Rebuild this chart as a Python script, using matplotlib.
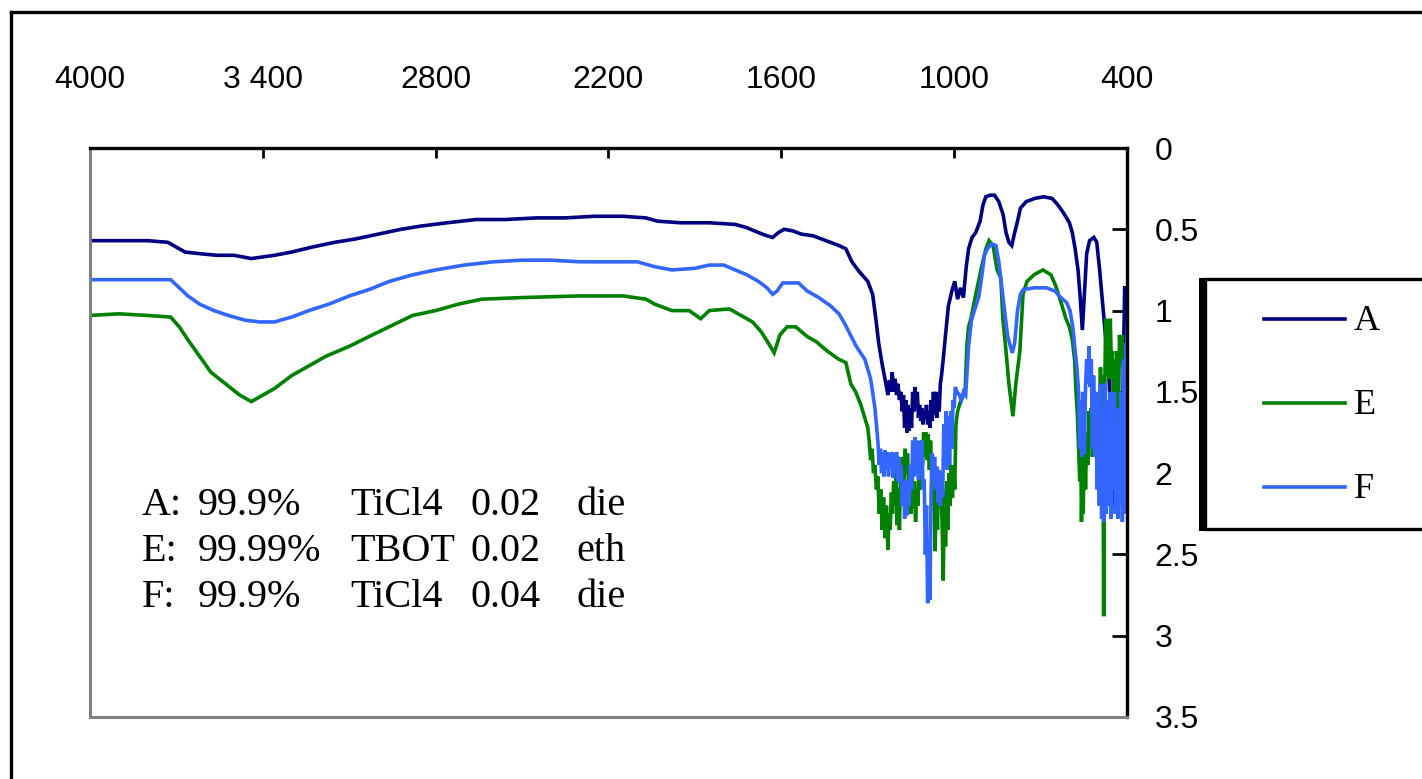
import matplotlib
matplotlib.use("Agg")
import matplotlib.pyplot as plt
from matplotlib import font_manager
from matplotlib.lines import Line2D
from matplotlib.patches import Rectangle

# ---------------- data: (wavenumber cm-1, absorbance) ----------------
spectrum_A = [
    (4000, 0.57), (3900, 0.57), (3800, 0.57), (3730, 0.58), (3700, 0.61), (3670, 0.64),
    (3620, 0.65), (3560, 0.66), (3500, 0.66), (3440, 0.68), (3400, 0.67), (3360, 0.66),
    (3300, 0.64), (3230, 0.61), (3150, 0.58), (3080, 0.56), (3000, 0.53), (2920, 0.50),
    (2850, 0.48), (2760, 0.46), (2660, 0.44), (2560, 0.44), (2450, 0.43), (2350, 0.43),
    (2250, 0.42), (2150, 0.42), (2070, 0.43), (2030, 0.45), (1950, 0.46), (1850, 0.46),
    (1760, 0.47), (1720, 0.49), (1680, 0.52), (1650, 0.54), (1630, 0.55), (1610, 0.52),
    (1590, 0.50), (1560, 0.51), (1530, 0.53), (1490, 0.54), (1460, 0.56), (1430, 0.58),
    (1400, 0.60), (1376, 0.62), (1355, 0.70), (1330, 0.76), (1300, 0.82), (1283, 0.90),
    (1272, 1.05), (1262, 1.20), (1250, 1.33), (1237, 1.45), (1230, 1.52), (1225, 1.43),
    (1220, 1.50), (1215, 1.38), (1210, 1.50), (1205, 1.42), (1200, 1.52), (1195, 1.45),
    (1190, 1.55), (1185, 1.50), (1180, 1.62), (1176, 1.52), (1172, 1.72), (1168, 1.55),
    (1164, 1.75), (1160, 1.58), (1156, 1.74), (1152, 1.60), (1148, 1.72), (1144, 1.50),
    (1140, 1.62), (1136, 1.47), (1132, 1.60), (1128, 1.50), (1124, 1.66), (1120, 1.58),
    (1116, 1.68), (1112, 1.60), (1108, 1.70), (1104, 1.62), (1100, 1.66), (1096, 1.58),
    (1092, 1.70), (1088, 1.62), (1084, 1.72), (1080, 1.55), (1076, 1.68), (1072, 1.50),
    (1068, 1.64), (1064, 1.50), (1060, 1.66), (1056, 1.52), (1052, 1.62), (1048, 1.45),
    (1044, 1.40), (1038, 1.30), (1030, 1.15), (1020, 0.97), (1008, 0.88), (998, 0.82),
    (988, 0.93), (978, 0.86), (968, 0.92), (958, 0.73), (950, 0.62), (938, 0.55),
    (925, 0.52), (910, 0.45), (900, 0.35), (890, 0.30), (875, 0.29), (860, 0.29),
    (845, 0.33), (830, 0.41), (820, 0.52), (810, 0.58), (800, 0.60), (790, 0.52),
    (780, 0.45), (770, 0.37), (750, 0.33), (720, 0.31), (690, 0.30), (660, 0.31),
    (640, 0.35), (620, 0.40), (600, 0.46), (590, 0.52), (580, 0.62), (570, 0.75),
    (562, 0.93), (555, 1.12), (548, 0.90), (540, 0.65), (530, 0.57), (515, 0.55),
    (505, 0.58), (495, 0.75), (485, 0.95), (475, 1.15), (463, 1.40), (450, 1.90),
    (440, 2.25), (432, 1.80), (425, 2.10), (415, 1.60), (408, 0.85), (400, 1.00),
]

spectrum_E = [
    (4000, 1.03), (3900, 1.02), (3800, 1.03), (3720, 1.04), (3690, 1.10), (3660, 1.18),
    (3620, 1.28), (3580, 1.38), (3530, 1.45), (3480, 1.52), (3440, 1.56), (3400, 1.52),
    (3360, 1.48), (3300, 1.40), (3240, 1.34), (3180, 1.28), (3100, 1.22), (3020, 1.15),
    (2950, 1.09), (2880, 1.03), (2800, 1.00), (2720, 0.96), (2640, 0.93), (2500, 0.92),
    (2300, 0.91), (2150, 0.91), (2070, 0.93), (2040, 0.96), (1980, 1.00), (1920, 1.00),
    (1880, 1.05), (1850, 1.00), (1780, 0.99), (1740, 1.03), (1700, 1.07), (1670, 1.13),
    (1645, 1.20), (1625, 1.26), (1605, 1.15), (1580, 1.10), (1550, 1.10), (1510, 1.16),
    (1480, 1.19), (1440, 1.25), (1400, 1.30), (1376, 1.32), (1359, 1.45), (1342, 1.50),
    (1324, 1.58), (1307, 1.68), (1300, 1.72), (1295, 1.80), (1290, 1.92), (1285, 1.85),
    (1280, 2.00), (1275, 1.95), (1270, 2.10), (1265, 2.02), (1260, 2.25), (1255, 2.10),
    (1250, 2.35), (1245, 2.15), (1240, 2.40), (1235, 2.20), (1230, 2.47), (1226, 2.25),
    (1222, 2.35), (1218, 2.12), (1214, 2.25), (1210, 2.05), (1206, 2.20), (1202, 2.00),
    (1198, 2.32), (1194, 2.10), (1190, 2.35), (1186, 2.00), (1182, 2.12), (1178, 1.90),
    (1174, 2.05), (1170, 1.85), (1166, 2.00), (1162, 1.88), (1158, 2.10), (1154, 1.95),
    (1150, 2.25), (1146, 2.00), (1142, 2.22), (1138, 2.05), (1134, 2.30), (1130, 2.10),
    (1126, 2.20), (1122, 1.95), (1118, 2.10), (1114, 1.80), (1110, 1.95), (1106, 1.75),
    (1102, 1.90), (1098, 1.75), (1094, 1.92), (1090, 1.76), (1086, 1.98), (1082, 1.80),
    (1078, 2.02), (1074, 2.20), (1070, 2.10), (1066, 2.48), (1062, 2.05), (1058, 2.35),
    (1054, 2.00), (1050, 2.10), (1046, 2.05), (1042, 2.30), (1038, 2.66), (1034, 2.10),
    (1030, 2.45), (1026, 2.05), (1022, 2.35), (1018, 2.00), (1014, 2.20), (1010, 1.95),
    (1006, 2.15), (1002, 1.95), (998, 2.10), (994, 1.70), (988, 1.62), (980, 1.57),
    (970, 1.53), (962, 1.50), (956, 1.22), (950, 1.10), (942, 1.05), (925, 0.90),
    (907, 0.75), (890, 0.62), (879, 0.57), (865, 0.60), (851, 0.75), (838, 0.80),
    (831, 1.05), (820, 1.25), (810, 1.45), (796, 1.65), (786, 1.45), (772, 1.25),
    (761, 0.90), (747, 0.82), (723, 0.78), (692, 0.75), (664, 0.78), (647, 0.85),
    (629, 0.95), (612, 1.05), (600, 1.10), (590, 1.18), (582, 1.30), (577, 1.50),
    (572, 1.65), (568, 1.85), (564, 2.05), (561, 1.80), (558, 2.30), (555, 1.90),
    (552, 2.25), (548, 1.80), (544, 2.10), (540, 1.75), (536, 1.95), (532, 1.62),
    (528, 1.85), (524, 1.60), (520, 1.90), (516, 1.62), (512, 1.85), (508, 1.60),
    (504, 1.92), (500, 1.65), (496, 1.85), (492, 1.35), (488, 2.20), (484, 1.40),
    (481, 2.88), (478, 1.60), (474, 1.05), (470, 1.40), (466, 1.08), (462, 1.42),
    (458, 1.05), (454, 1.35), (450, 1.25), (446, 1.90), (442, 1.30), (438, 1.80),
    (434, 1.25), (430, 1.70), (426, 1.15), (422, 1.30), (418, 1.15), (414, 1.35),
    (410, 1.22), (406, 1.45), (402, 1.25), (400, 1.40),
]

spectrum_F = [
    (4000, 0.81), (3800, 0.81), (3720, 0.81), (3690, 0.86), (3660, 0.91), (3620, 0.96),
    (3570, 1.00), (3520, 1.03), (3460, 1.06), (3410, 1.07), (3360, 1.07), (3300, 1.04),
    (3240, 1.00), (3170, 0.96), (3100, 0.91), (3030, 0.87), (2960, 0.82), (2880, 0.78),
    (2800, 0.75), (2700, 0.72), (2600, 0.70), (2500, 0.69), (2400, 0.69), (2300, 0.70),
    (2200, 0.70), (2100, 0.70), (2040, 0.73), (1980, 0.75), (1900, 0.74), (1850, 0.72),
    (1800, 0.72), (1760, 0.75), (1720, 0.78), (1680, 0.82), (1650, 0.86), (1630, 0.90),
    (1615, 0.88), (1595, 0.83), (1570, 0.83), (1540, 0.83), (1510, 0.88), (1470, 0.92),
    (1430, 0.97), (1400, 1.02), (1380, 1.08), (1360, 1.15), (1340, 1.22), (1310, 1.30),
    (1290, 1.42), (1275, 1.60), (1265, 1.80), (1260, 1.95), (1256, 1.85), (1252, 2.00),
    (1248, 1.87), (1244, 2.02), (1240, 1.86), (1236, 1.98), (1232, 1.87), (1228, 2.02),
    (1224, 1.88), (1220, 1.97), (1216, 1.87), (1212, 2.03), (1208, 1.88), (1204, 2.00),
    (1200, 1.87), (1196, 2.05), (1192, 1.90), (1188, 2.06), (1184, 1.95), (1180, 2.20),
    (1176, 2.05), (1172, 2.28), (1168, 2.04), (1164, 2.26), (1160, 2.05), (1156, 2.20),
    (1152, 1.95), (1148, 2.10), (1144, 1.80), (1140, 2.02), (1136, 1.78), (1132, 2.00),
    (1128, 1.80), (1124, 2.04), (1120, 1.82), (1116, 2.02), (1112, 1.80), (1108, 2.10),
    (1104, 2.04), (1100, 2.50), (1096, 2.20), (1092, 2.80), (1088, 2.60), (1084, 2.78),
    (1080, 2.10), (1076, 1.88), (1072, 2.04), (1068, 1.90), (1064, 2.10), (1060, 1.96),
    (1056, 2.18), (1052, 1.98), (1048, 2.20), (1044, 2.00), (1040, 2.15), (1036, 1.70),
    (1032, 1.95), (1028, 1.62), (1024, 1.98), (1020, 1.65), (1016, 1.95), (1012, 1.62),
    (1008, 1.85), (1004, 1.55), (1000, 1.60), (996, 1.47), (990, 1.50), (982, 1.52),
    (975, 1.55), (968, 1.50), (960, 1.52), (950, 1.22), (940, 1.06), (930, 1.00),
    (915, 0.92), (905, 0.80), (895, 0.66), (885, 0.62), (870, 0.59), (855, 0.60),
    (845, 0.70), (835, 0.85), (825, 1.00), (815, 1.15), (805, 1.22), (798, 1.26),
    (790, 1.20), (780, 1.00), (770, 0.90), (760, 0.87), (720, 0.86), (680, 0.86),
    (650, 0.88), (630, 0.92), (610, 0.95), (598, 1.00), (588, 1.10), (580, 1.25),
    (574, 1.35), (568, 1.50), (564, 1.85), (560, 1.55), (556, 1.90), (552, 1.50),
    (548, 1.88), (544, 1.47), (540, 1.30), (536, 1.45), (532, 1.22), (528, 1.47),
    (524, 1.30), (520, 1.85), (516, 1.40), (512, 1.90), (508, 1.50), (504, 2.10),
    (500, 1.55), (496, 2.20), (492, 1.45), (488, 2.28), (484, 1.60), (480, 2.30),
    (476, 1.45), (472, 2.25), (468, 1.55), (464, 2.20), (460, 1.50), (456, 2.28),
    (452, 1.60), (448, 2.10), (444, 1.50), (440, 2.25), (436, 1.60), (432, 2.28),
    (428, 1.70), (424, 2.20), (420, 1.50), (416, 2.30), (412, 1.30), (408, 2.25),
    (404, 1.20), (400, 1.80),
]

series_names = ["A", "E", "F"]
series_colors = ["#000080", "#008000", "#3366FF"]

x_ticks = [4000, 3400, 2800, 2200, 1600, 1000, 400]
x_tick_labels = ["4000", "3 400", "2800", "2200", "1600", "1000", "400"]
y_ticks = [0, 0.5, 1, 1.5, 2, 2.5, 3, 3.5]
y_tick_labels = ["0", "0.5", "1", "1.5", "2", "2.5", "3", "3.5"]

# sample descriptions: name, purity, precursor, concentration, solvent
note_names = ["A:", "E:", "F:"]
note_purity = ["99.9%", "99.99%", "99.9%"]
note_precursor = ["TiCl4", "TBOT", "TiCl4"]
note_conc = ["0.02", "0.02", "0.04"]
note_solvent = ["die", "eth", "die"]

# ---------------- fonts ----------------
available = {f.name for f in font_manager.fontManager.ttflist}
tick_family = next((f for f in ["Liberation Sans Narrow", "DejaVu Sans Condensed", "Liberation Sans"]
                    if f in available), "DejaVu Sans")
serif_family = "Liberation Serif" if "Liberation Serif" in available else "DejaVu Serif"

# ---------------- figure ----------------
W, H = 1422, 779
fig = plt.figure(figsize=(W / 100, H / 100), dpi=100)
fig.patch.set_facecolor("white")


def fx(px):
    return px / W


def fy(py):
    return 1 - py / H


ax = fig.add_axes([fx(90), fy(717), fx(1127) - fx(90), fy(148) - fy(717)])

for spec, col in zip([spectrum_A, spectrum_E, spectrum_F], series_colors):
    wn = [p[0] for p in spec]
    ab = [p[1] for p in spec]
    ax.plot(wn, ab, color=col, lw=2.6, solid_joinstyle="miter")

ax.set_xlim(4000, 400)
ax.set_ylim(3.5, 0)

ax.xaxis.tick_top()
ax.set_xticks(x_ticks)
ax.set_xticklabels(x_tick_labels, fontfamily=tick_family)
ax.yaxis.tick_right()
ax.set_yticks(y_ticks)
ax.set_yticklabels(y_tick_labels, fontfamily=tick_family)
ax.tick_params(axis="x", direction="in", length=7, width=2, pad=38, labelsize=23, colors="black")
ax.tick_params(axis="y", direction="in", length=11, width=2, pad=20, labelsize=23, colors="black")

for side in ["left", "bottom"]:
    ax.spines[side].set_color("#808080")
    ax.spines[side].set_linewidth(2.2)
for side in ["top", "right"]:
    ax.spines[side].set_color("black")
    ax.spines[side].set_linewidth(2.4)

# sample description block
row_base = [515, 561, 607]
col_x = [142, 198, 350, 471, 576]
for i in range(3):
    for cx, txt in zip(col_x, [note_names[i], note_purity[i], note_precursor[i],
                               note_conc[i], note_solvent[i]]):
        fig.text(fx(cx), fy(row_base[i]), txt, fontsize=29, family=serif_family,
                 va="baseline", ha="left", color="black")

# legend box (extends past the right edge)
fig.add_artist(Rectangle((fx(1205), fy(529)), fx(1440) - fx(1205), fy(279) - fy(529),
                         transform=fig.transFigure, facecolor="white", edgecolor="black",
                         lw=2.4, zorder=5))
fig.add_artist(Rectangle((fx(1199), fy(531)), fx(8), fy(278) - fy(531),
                         transform=fig.transFigure, facecolor="black", edgecolor="none",
                         zorder=6))
leg_rows = [319, 403, 487]
for name, col, ry in zip(series_names, series_colors, leg_rows):
    fig.add_artist(Line2D([fx(1264), fx(1345)], [fy(ry), fy(ry)], color=col, lw=2.6,
                          transform=fig.transFigure, zorder=7))
    fig.text(fx(1354), fy(ry + 3), name, fontsize=26, family=serif_family,
             va="center", ha="left", color="black", zorder=7)

# outer frame (top and left edges)
fig.add_artist(Line2D([fx(11), 1.0], [fy(12), fy(12)], color="black", lw=2.4,
                      transform=fig.transFigure))
fig.add_artist(Line2D([fx(11), fx(11)], [fy(12), 0.0], color="black", lw=2.4,
                      transform=fig.transFigure))

fig.savefig("out.png", dpi=100)
